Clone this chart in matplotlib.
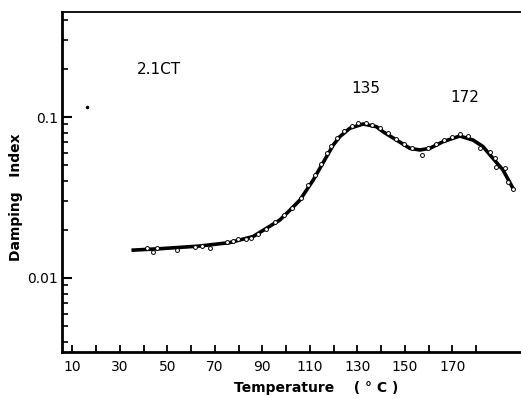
import matplotlib.pyplot as plt
import numpy as np

# smooth curve drawn through the data (temperature, damping index)
curve_t = [35.6, 46.8, 63.7, 76.3, 86.1, 91.8, 97.3, 101.6, 105.8, 108.6, 111.4,
           114.2, 117.0, 119.8, 122.6, 126.8, 132.4, 138.0, 140.8, 146.5, 152.1,
           156.3, 160.5, 166.1, 173.1, 178.7, 182.9, 187.1, 191.3, 195.5]
curve_d = [0.0149, 0.0152, 0.0158, 0.0166, 0.0181, 0.0204, 0.0229, 0.0264, 0.0305,
           0.0352, 0.0406, 0.0480, 0.0567, 0.0669, 0.0755, 0.0851, 0.0905, 0.0871,
           0.0810, 0.0719, 0.0639, 0.0624, 0.0639, 0.0703, 0.0762, 0.0719, 0.0655,
           0.0553, 0.0469, 0.0361]

# measured points (open circles)
pts_t = [41.2, 44.0, 45.7, 53.9, 61.6, 64.4, 67.9, 74.9, 77.7, 79.8, 83.0, 85.4,
         88.1, 91.5, 95.2, 99.0, 102.4, 106.2, 109.1, 112.1, 114.6, 117.1, 118.8,
         121.3, 124.3, 127.6, 130.2, 133.6, 136.1, 139.4, 142.8, 146.2, 149.5,
         152.9, 157.0, 159.6, 163.0, 166.4, 169.7, 173.1, 176.5, 181.5, 185.7,
         187.8, 188.5, 192.0, 193.4, 195.5]
pts_d = [0.0153, 0.0145, 0.0154, 0.0149, 0.0156, 0.0159, 0.0154, 0.0168, 0.0170,
         0.0175, 0.0175, 0.0178, 0.0188, 0.0201, 0.0223, 0.0246, 0.0272, 0.0316,
         0.0378, 0.0437, 0.0511, 0.0597, 0.0661, 0.0741, 0.0819, 0.0879, 0.0912,
         0.0912, 0.0892, 0.0855, 0.0796, 0.0729, 0.0679, 0.0641, 0.0581, 0.0641,
         0.0679, 0.0719, 0.0751, 0.0784, 0.0762, 0.0640, 0.0608, 0.0553, 0.0491,
         0.0480, 0.0396, 0.0356]

stray_t = [16.1]
stray_d = [0.115]

xticks = list(range(10, 190, 10))
xlabels = [str(t) if t % 20 == 10 else '' for t in xticks]

fig = plt.figure(figsize=(5.21, 3.99), dpi=100)
ax = fig.add_axes([62/521, 1-352/399, 1-62/521, 340/399])

ax.plot(curve_t, curve_d, '-', color='black', lw=2.6, zorder=2)
ax.plot(pts_t, pts_d, 'o', ms=2.8, mfc='white', mec='black', mew=0.7, zorder=3)
ax.plot(stray_t, stray_d, 'k.', ms=3)

ax.set_yscale('log')
ax.set_xlim(5.6, 198.9)
ax.set_ylim(0.00347, 0.449)

ax.set_xticks(xticks)
ax.set_xticklabels(xlabels, fontsize=10)
ax.set_yticks([0.01, 0.1])
ax.set_yticklabels(['0.01', '0.1'], fontsize=10)
ax.tick_params(axis='x', direction='in', length=5, width=1.3, pad=6)
ax.tick_params(axis='y', which='major', direction='in', length=7, width=1.5, pad=3)
ax.tick_params(axis='y', which='minor', direction='in', length=4, width=1.2)

ax.spines['right'].set_visible(False)
ax.spines['left'].set_linewidth(2)
ax.spines['bottom'].set_linewidth(2)
ax.spines['top'].set_linewidth(1.3)

ax.set_xlabel('Temperature    ( ° C )', fontsize=10, fontweight='bold', va='center')
ax.set_ylabel('Damping   Index', fontsize=10, fontweight='bold')
ax.xaxis.set_label_coords(0.553, -0.106)
ax.yaxis.set_label_coords(-0.085, 0.456)

ax.text(0.211, 0.83, '2.1CT', transform=ax.transAxes, fontsize=11, ha='center', va='center')
ax.text(133.6, 0.151, '135', fontsize=11, ha='center', va='center')
ax.text(175.2, 0.133, '172', fontsize=11, ha='center', va='center')

fig.savefig('out.png', dpi=100)
